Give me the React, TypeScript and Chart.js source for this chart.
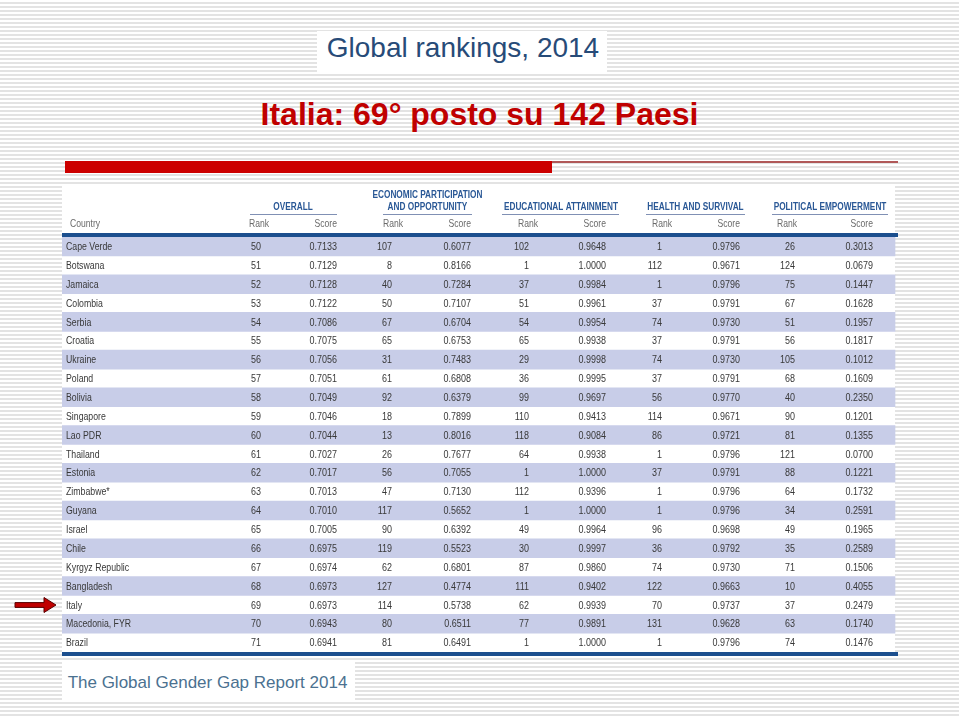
import React, { useEffect, useRef } from 'react';
import { Chart, registerables } from 'chart.js';

Chart.register(...registerables);

// ---------- data ----------
const countries = [
  'Cape Verde', 'Botswana', 'Jamaica', 'Colombia', 'Serbia', 'Croatia', 'Ukraine', 'Poland',
  'Bolivia', 'Singapore', 'Lao PDR', 'Thailand', 'Estonia', 'Zimbabwe*', 'Guyana', 'Israel',
  'Chile', 'Kyrgyz Republic', 'Bangladesh', 'Italy', 'Macedonia, FYR', 'Brazil',
];
const overallRank = [50, 51, 52, 53, 54, 55, 56, 57, 58, 59, 60, 61, 62, 63, 64, 65, 66, 67, 68, 69, 70, 71];
const overallScore = [0.7133, 0.7129, 0.7128, 0.7122, 0.7086, 0.7075, 0.7056, 0.7051, 0.7049, 0.7046, 0.7044, 0.7027, 0.7017, 0.7013, 0.7010, 0.7005, 0.6975, 0.6974, 0.6973, 0.6973, 0.6943, 0.6941];
const econRank = [107, 8, 40, 50, 67, 65, 31, 61, 92, 18, 13, 26, 56, 47, 117, 90, 119, 62, 127, 114, 80, 81];
const econScore = [0.6077, 0.8166, 0.7284, 0.7107, 0.6704, 0.6753, 0.7483, 0.6808, 0.6379, 0.7899, 0.8016, 0.7677, 0.7055, 0.7130, 0.5652, 0.6392, 0.5523, 0.6801, 0.4774, 0.5738, 0.6511, 0.6491];
const eduRank = [102, 1, 37, 51, 54, 65, 29, 36, 99, 110, 118, 64, 1, 112, 1, 49, 30, 87, 111, 62, 77, 1];
const eduScore = [0.9648, 1.0000, 0.9984, 0.9961, 0.9954, 0.9938, 0.9998, 0.9995, 0.9697, 0.9413, 0.9084, 0.9938, 1.0000, 0.9396, 1.0000, 0.9964, 0.9997, 0.9860, 0.9402, 0.9939, 0.9891, 1.0000];
const healthRank = [1, 112, 1, 37, 74, 37, 74, 37, 56, 114, 86, 1, 37, 1, 1, 96, 36, 74, 122, 70, 131, 1];
const healthScore = [0.9796, 0.9671, 0.9796, 0.9791, 0.9730, 0.9791, 0.9730, 0.9791, 0.9770, 0.9671, 0.9721, 0.9796, 0.9791, 0.9796, 0.9796, 0.9698, 0.9792, 0.9730, 0.9663, 0.9737, 0.9628, 0.9796];
const polRank = [26, 124, 75, 67, 51, 56, 105, 68, 40, 90, 81, 121, 88, 64, 34, 49, 35, 71, 10, 37, 63, 74];
const polScore = [0.3013, 0.0679, 0.1447, 0.1628, 0.1957, 0.1817, 0.1012, 0.1609, 0.2350, 0.1201, 0.1355, 0.0700, 0.1221, 0.1732, 0.2591, 0.1965, 0.2589, 0.1506, 0.4055, 0.2479, 0.1740, 0.1476];

const groupTitles = [
  ['OVERALL'],
  ['ECONOMIC PARTICIPATION', 'AND OPPORTUNITY'],
  ['EDUCATIONAL ATTAINMENT'],
  ['HEALTH AND SURVIVAL'],
  ['POLITICAL EMPOWERMENT'],
];
const subLabels = ['Rank', 'Score'];
const countryHeader = 'Country';
const pageTitle = 'Global rankings, 2014';
const headline = 'Italia: 69° posto su 142 Paesi';
const footer = 'The Global Gender Gap Report 2014';

const rankColumns = [overallRank, econRank, eduRank, healthRank, polRank];
const scoreColumns = [overallScore, econScore, eduScore, healthScore, polScore];

// ---------- layout / style ----------
const SANS = "'Liberation Sans', Arial, sans-serif";
const TABLE_LEFT = 62;
const TABLE_TOP = 185;
const TABLE_W = 836;
const TABLE_H = 472;
const WHITE_W = 833;
const SHADE_W = 833;
const SHADE = '#c8cde8';
const RULE = '#1c4f8e';
const GROUP_COLOR = '#2a5896';
const UNDERLINE = '#8090b4';
const BODY_COLOR = '#383838';
const SUB_COLOR = '#6a6a6a';
const CONDENSE = 0.78;

// in x-scale units (pixels from table left)
const groupLayout = [
  { center: 231, from: 188, to: 275, rankHead: 207, rank: 199, score: 275 },
  { center: 365.5, from: 321, to: 410, rankHead: 341, rank: 330, score: 409 },
  { center: 499, from: 440, to: 557, rankHead: 476, rank: 467, score: 544 },
  { center: 633.5, from: 584, to: 683, rankHead: 610, rank: 600, score: 678 },
  { center: 768, from: 710, to: 826, rankHead: 735, rank: 733, score: 811 },
];

function drawText(ctx: CanvasRenderingContext2D, text: string, x: number, y: number, align: CanvasTextAlign, sx: number) {
  ctx.save();
  ctx.translate(x, y);
  ctx.scale(sx, 1);
  ctx.textAlign = align;
  ctx.fillText(text, 0, 0);
  ctx.restore();
}

const tablePlugin = {
  id: 'tableCells',
  beforeDraw(chart: any) {
    const ctx = chart.ctx;
    ctx.save();
    ctx.fillStyle = '#ffffff';
    ctx.fillRect(0, 0, WHITE_W, chart.height);
    ctx.restore();
  },
  afterDraw(chart: any) {
    const { ctx, chartArea } = chart;
    const xs = chart.scales.x;
    const ys = chart.scales.y;
    const top = chartArea.top;
    ctx.save();
    // rules
    ctx.fillStyle = RULE;
    ctx.fillRect(chartArea.left, top - 4, TABLE_W, 4);
    ctx.fillRect(chartArea.left, chartArea.bottom, TABLE_W, 4);

    ctx.textBaseline = 'middle';
    // country header + names
    ctx.font = `11px ${SANS}`;
    ctx.fillStyle = SUB_COLOR;
    drawText(ctx, countryHeader, xs.getPixelForValue(8), top - 13, 'left', CONDENSE);
    ctx.font = `11.5px ${SANS}`;
    ctx.fillStyle = BODY_COLOR;
    countries.forEach((c, i) => {
      drawText(ctx, c, xs.getPixelForValue(4), ys.getPixelForValue(i) + 0.5, 'left', 0.76);
    });

    groupLayout.forEach((L, g) => {
      const lines = groupTitles[g];
      ctx.font = `bold 11px ${SANS}`;
      ctx.fillStyle = GROUP_COLOR;
      const cx = xs.getPixelForValue(L.center);
      lines.forEach((t, k) => {
        drawText(ctx, t, cx, top - 30 - (lines.length - 1 - k) * 12, 'center', 0.75);
      });
      ctx.fillStyle = UNDERLINE;
      const x0 = xs.getPixelForValue(L.from);
      const x1 = xs.getPixelForValue(L.to);
      ctx.fillRect(x0, top - 23, x1 - x0, 1);
      ctx.font = `11px ${SANS}`;
      ctx.fillStyle = SUB_COLOR;
      drawText(ctx, subLabels[0], xs.getPixelForValue(L.rankHead), top - 13, 'right', CONDENSE);
      drawText(ctx, subLabels[1], xs.getPixelForValue(L.score), top - 13, 'right', CONDENSE);
      ctx.font = `11.5px ${SANS}`;
      ctx.fillStyle = BODY_COLOR;
      const ranks = rankColumns[g];
      const scores = scoreColumns[g];
      countries.forEach((_, i) => {
        const yy = ys.getPixelForValue(i) + 0.5;
        drawText(ctx, String(ranks[i]), xs.getPixelForValue(L.rank), yy, 'right', CONDENSE);
        drawText(ctx, scores[i].toFixed(4), xs.getPixelForValue(L.score), yy, 'right', CONDENSE);
      });
    });
    ctx.restore();
  },
};

function TableChart() {
  const ref = useRef<HTMLCanvasElement | null>(null);
  useEffect(() => {
    if (!ref.current) return;
    const chart = new Chart(ref.current, {
      type: 'bar',
      data: {
        labels: countries,
        datasets: [
          {
            data: countries.map((_, i) => (i % 2 === 0 ? [0, SHADE_W] : null)) as any,
            backgroundColor: SHADE,
            borderWidth: 0,
            barPercentage: 1,
            categoryPercentage: 1,
          },
        ],
      },
      options: {
        indexAxis: 'y',
        animation: false,
        responsive: false,
        maintainAspectRatio: false,
        layout: { padding: { top: 52, bottom: 5, left: 0, right: 0 } },
        plugins: { legend: { display: false }, tooltip: { enabled: false } },
        scales: {
          x: { type: 'linear', min: 0, max: TABLE_W, display: false },
          y: {
            type: 'category',
            position: 'left',
            grid: { display: false, drawTicks: false },
            border: { display: false },
            ticks: { display: false },
            afterFit: (s: any) => {
              s.width = 0;
            },
          },
        },
      } as any,
      plugins: [tablePlugin],
    });
    return () => chart.destroy();
  }, []);
  return (
    <canvas
      ref={ref}
      width={TABLE_W}
      height={TABLE_H}
      style={{ position: 'absolute', left: TABLE_LEFT, top: TABLE_TOP, width: TABLE_W, height: TABLE_H }}
    />
  );
}

export default function App() {
  return (
    <div
      style={{
        position: 'relative',
        width: 959,
        height: 717,
        overflow: 'hidden',
        background:
          'repeating-linear-gradient(to bottom, #ffffff 0px, #ffffff 2px, #e3e3e3 2px, #e3e3e3 4px)',
      }}
    >
      <style>{'body{margin:0}'}</style>
      <div style={{ position: 'absolute', left: 317, top: 31, width: 290, height: 41, background: '#fff' }} />
      <div
        style={{
          position: 'absolute', left: 317, top: 34, width: 292, textAlign: 'center',
          font: `28px/28px ${SANS}`, color: '#274b78', whiteSpace: 'nowrap',
        }}
      >
        {pageTitle}
      </div>
      <div
        style={{
          position: 'absolute', left: 0, top: 98, width: 959, textAlign: 'center',
          font: `bold 32px/32px ${SANS}`, color: '#c00000', whiteSpace: 'nowrap',
        }}
      >
        {headline}
      </div>
      <div style={{ position: 'absolute', left: 65, top: 161, width: 487, height: 12, background: '#cc0000' }} />
      <div style={{ position: 'absolute', left: 552, top: 161, width: 346, height: 2, background: '#b05858' }} />
      <TableChart />
      <svg style={{ position: 'absolute', left: 0, top: 591, overflow: 'visible' }} width={70} height={30}>
        <polygon
          points="15,11.6 44,11.6 44,6.5 56,14 44,21.5 44,16.4 15,16.4"
          fill="#c00000"
          stroke="#5a0000"
          strokeWidth={1}
        />
      </svg>
      <div style={{ position: 'absolute', left: 62, top: 661, width: 293, height: 39, background: '#fff' }} />
      <div
        style={{
          position: 'absolute', left: 62, top: 674, width: 291, textAlign: 'center',
          font: `17px/17px ${SANS}`, color: '#4b7190', whiteSpace: 'nowrap',
        }}
      >
        {footer}
      </div>
    </div>
  );
}
